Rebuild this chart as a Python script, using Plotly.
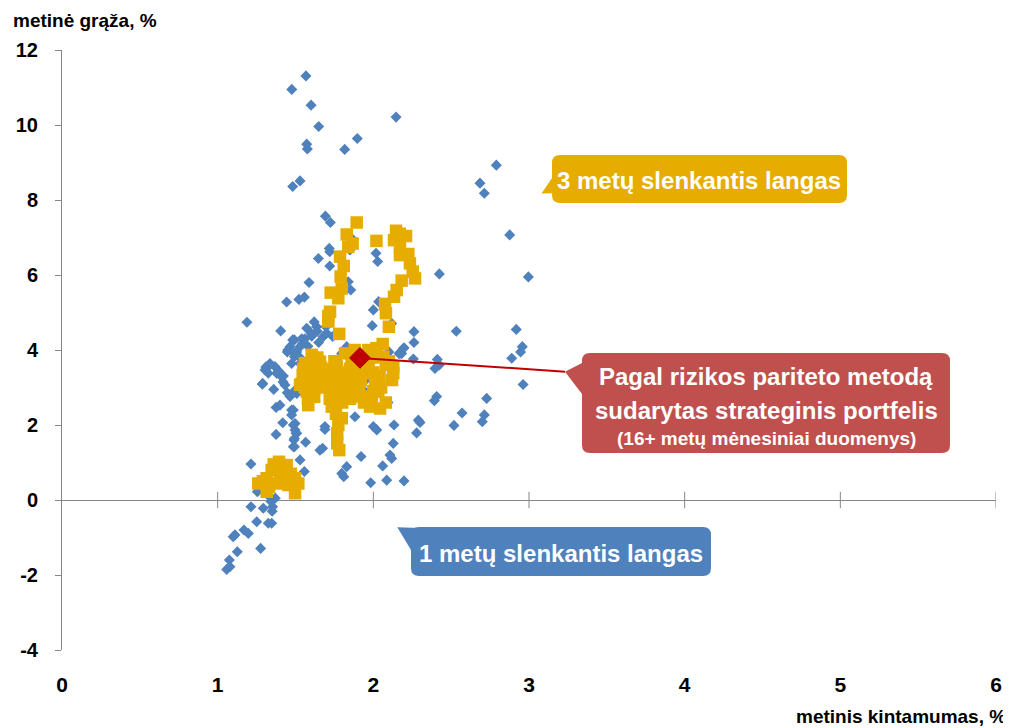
import plotly.graph_objects as go

# ---------------- data ----------------
blue_x = [1.567,1.476,1.600,1.649,2.146,1.897,1.816,1.572,1.576,1.529,1.482,1.692,1.724,1.717,
          2.790,2.685,2.713,2.876,2.424,2.996,2.261,2.533,2.918,2.261,2.197,2.957,2.946,2.889,2.100,2.182,
          2.257,2.411,2.396,2.424,2.962,2.407,2.392,2.728,2.570,2.518,2.713,2.700,2.094,2.133,2.300,2.278,
          2.128,2.107,2.118,2.060,2.086,2.197,2.118,
          1.647,1.720,1.720,2.017,2.028,1.850,1.855,1.587,1.443,1.522,1.557,1.188,2.000,2.034,1.993,1.405,
          1.572,1.636,1.696,1.739,1.649,1.604,1.482,1.546,1.465,1.447,1.492,1.524,1.475,1.336,1.368,1.325,
          1.422,1.289,1.447,1.829,1.797,2.165,1.765,1.679,1.614,
          1.861,1.839,1.679,1.493,1.529,1.508,1.493,1.529,2.193,2.171,1.946,1.882,2.000,2.289,1.465,1.486,
          1.497,1.700,1.689,1.411,1.432,1.336,1.304,1.529,1.508,1.593,1.604,1.379,
          1.255,1.343,1.353,1.214,1.293,1.251,1.325,1.347,1.169,1.111,1.197,1.100,1.126,1.276,1.075,1.058,1.079,
          1.418,1.486,1.375,1.503,1.490,1.486,1.565,1.689,1.657,1.674,1.214,1.529,1.557,1.829,1.797,1.810,
          1.287,1.375,1.400,1.475,1.475,1.497,1.497,1.508,1.493,1.493,1.921,1.983,2.022,
          1.600,1.560,1.640,1.700,1.860,1.900,1.950,1.880,1.960,1.760,1.370,1.330,1.350,
          1.310,1.390,1.450,1.540,1.580,1.620,1.420,1.360]
blue_y = [11.31,10.95,10.53,9.96,10.21,9.64,9.35,9.49,9.36,8.51,8.36,7.57,7.40,6.71,
          8.93,8.45,8.18,7.07,6.03,5.95,4.49,4.50,4.55,4.20,4.06,4.09,3.95,3.78,3.95,3.91,
          3.76,3.75,3.51,3.60,3.08,2.76,2.65,2.71,2.32,1.99,2.27,2.09,2.60,2.00,2.07,1.79,
          1.51,1.20,1.11,0.91,0.53,0.51,4.71,
          6.44,6.62,6.24,6.58,6.36,6.67,5.60,5.80,5.28,5.35,5.41,4.74,5.07,5.29,4.65,4.51,
          4.58,4.62,4.62,4.36,4.20,4.37,4.27,4.18,4.09,3.95,3.91,3.82,3.64,3.64,3.56,3.38,
          3.31,3.11,2.86,4.09,3.91,3.91,3.73,3.42,3.07,
          6.98,5.82,4.36,4.27,4.09,3.95,3.82,3.64,4.04,3.91,2.89,2.22,1.96,2.13,2.76,2.40,
          2.93,2.93,1.96,3.29,3.07,3.60,3.47,3.20,2.84,3.29,2.76,3.38,
          0.22,-0.04,-0.18,-0.18,-0.22,-0.58,-0.62,-0.62,-0.80,-0.93,-0.89,-0.98,-1.38,-1.29,-1.60,-1.85,-1.78,
          2.06,2.00,1.75,1.78,1.60,1.42,1.54,1.88,1.33,1.38,0.96,1.07,0.76,0.89,0.71,0.62,
          3.09,2.47,2.53,2.40,2.27,2.04,1.87,1.78,1.64,1.42,1.16,0.46,1.87,
          4.45,4.30,4.50,4.45,3.55,3.45,3.20,2.95,2.60,2.30,0.05,0.10,-0.30,
          3.55,3.45,4.00,4.30,4.10,4.75,3.15,2.95]

gold_x = [1.893,1.829,1.867,1.839,1.786,1.810,1.790,1.797,1.726,1.775,1.722,1.711,1.711,1.781,
          2.020,2.146,2.133,2.210,2.171,2.171,2.225,2.235,2.253,2.268,2.182,2.150,2.133,2.075,2.081,
          2.100,2.060,2.064,2.170,
          1.968,1.818,1.604,1.657,1.625,1.546,1.529,1.572,1.582,1.765,1.754,1.722,1.765,1.733,1.797,
          1.775,1.829,1.839,1.882,1.936,1.957,2.011,2.032,1.925,1.979,2.043,2.128,2.128,1.768,1.768,1.781,
          1.550,1.600,1.650,1.700,1.750,1.860,1.900,1.970,2.000,1.800,1.850,1.910,1.990,2.040,1.560,1.620,
          1.680,1.720,1.590,1.640,1.800,1.880,2.080,1.760,
          1.560,1.600,1.580,1.660,1.700,1.740,1.800,1.850,1.920,2.000,2.050,2.080,2.000,1.860,1.940,
          1.880,2.020,2.100,2.120,1.540,1.620,
          1.394,1.443,1.347,1.315,1.261,1.315,1.379,1.422,1.497,1.518,1.497,1.454,1.400,1.360,1.430,1.470,
          1.290,1.330]
gold_y = [7.40,7.08,6.84,6.75,6.49,6.24,5.96,5.64,5.53,5.38,5.02,4.91,4.76,4.43,
          6.91,7.18,6.93,7.04,6.75,6.53,6.56,6.31,6.09,5.91,5.85,5.60,5.42,5.23,4.98,
          4.62,4.16,3.82,7.10,
          4.00,3.91,3.87,3.69,3.51,3.33,3.07,2.89,2.53,3.56,3.29,3.11,2.84,2.49,2.18,
          2.00,3.20,2.84,3.38,3.73,3.38,3.11,2.89,2.76,2.49,2.44,3.56,3.38,1.78,1.51,1.33,
          3.50,3.20,3.30,3.50,3.70,3.70,3.55,3.60,3.80,2.60,2.70,3.00,2.70,3.30,3.00,2.75,
          3.00,2.70,3.65,3.80,3.00,3.10,3.60,2.30,
          3.65,3.45,2.70,3.55,3.20,3.00,3.40,3.50,3.20,3.40,3.00,2.60,2.90,2.95,2.60,
          4.00,4.05,3.70,3.20,3.10,2.95,
          1.02,0.93,0.80,0.58,0.44,0.22,0.44,0.62,0.58,0.44,0.18,0.40,0.76,0.95,0.80,0.70,
          0.50,0.35]

red_x = [1.914]
red_y = [3.79]

x_ticks = [0, 1, 2, 3, 4, 5, 6]
y_ticks = [-4, -2, 0, 2, 4, 6, 8, 10, 12]

y_title = "metinė grąža, %"
x_title = "metinis kintamumas, %"
label_gold = "3 metų slenkantis langas"
label_blue = "1 metų slenkantis langas"
label_red = ["Pagal rizikos pariteto metodą", "sudarytas strateginis portfelis",
             "(16+ metų mėnesiniai duomenys)"]

# ---------------- layout constants ----------------
# the page body has an 8px margin, so the figure is drawn 8px smaller and
# everything is placed in reference-window pixel coordinates
OFF = 8
W, H = 1011 - OFF, 728 - OFF
REF_L, REF_T, PW, PH = 62, 50, 934, 600
ML, MT = REF_L - OFF, REF_T - OFF
MR, MB = W - ML - PW, H - MT - PH
FONT = "Liberation Sans, Arial, sans-serif"
AXC = "#868686"
BLUE = "#4F81BD"
GOLD = "#E6AC00"
REDBOX = "#C0504D"
RED = "#C00000"


def px(x):
    return (x - REF_L) / PW


def py(y):
    return (REF_T + PH - y) / PH


def callout(x0, y0, x1, y1, ptr, color, r=8):
    path = f"M{px(x0+r)},{py(y0)} L{px(x1-r)},{py(y0)} Q{px(x1)},{py(y0)} {px(x1)},{py(y0+r)} "
    path += f"L{px(x1)},{py(y1-r)} Q{px(x1)},{py(y1)} {px(x1-r)},{py(y1)} "
    path += f"L{px(x0+r)},{py(y1)} Q{px(x0)},{py(y1)} {px(x0)},{py(y1-r)} "
    path += f"L{px(x0)},{py(y0+r)} Q{px(x0)},{py(y0)} {px(x0+r)},{py(y0)} Z"
    tri = (f"M{px(ptr[0][0])},{py(ptr[0][1])} L{px(ptr[1][0])},{py(ptr[1][1])} "
           f"L{px(ptr[2][0])},{py(ptr[2][1])} Z")
    return [dict(type="path", xref="paper", yref="paper", path=path, fillcolor=color,
                 line=dict(width=0), layer="above"),
            dict(type="path", xref="paper", yref="paper", path=tri, fillcolor=color,
                 line=dict(width=0), layer="above")]


fig = go.Figure()
fig.add_trace(go.Scatter(x=blue_x, y=blue_y, mode="markers",
                         marker=dict(symbol="diamond", size=8.5, color=BLUE, line=dict(width=0)),
                         hoverinfo="skip", showlegend=False))
fig.add_trace(go.Scatter(x=gold_x, y=gold_y, mode="markers",
                         marker=dict(symbol="square", size=12.5, color=GOLD, line=dict(width=0)),
                         hoverinfo="skip", showlegend=False))

shapes = []
for t in x_ticks[1:]:
    shapes.append(dict(type="line", xref="x", yref="y", x0=t, x1=t, y0=-0.22, y1=0.22,
                       line=dict(color=AXC, width=1), layer="below"))
shapes.append(dict(type="line", xref="x", yref="y", x0=red_x[0], y0=red_y[0],
                   x1=(565 - REF_L) / PW * 6, y1=12 - (371.7 - REF_T) / PH * 16,
                   line=dict(color=RED, width=2), layer="above"))
shapes += callout(552, 155, 847, 203, [(552, 178), (541.5, 193.5), (560, 193)], GOLD)
shapes += callout(582, 353, 950, 453, [(582, 363), (565, 371.7), (582, 394)], REDBOX)
shapes += callout(411, 527, 711, 576, [(420, 528), (397.3, 527.3), (411, 550)], BLUE)

fig.add_trace(go.Scatter(x=red_x, y=red_y, mode="markers",
                         marker=dict(symbol="diamond", size=16, color=RED,
                                     line=dict(width=1, color="#A00000")),
                         hoverinfo="skip", showlegend=False))

ann = []
ann.append(dict(text=f"<b>{y_title}</b>", xref="paper", yref="paper", x=px(11), y=py(21),
                xanchor="left", yanchor="middle", showarrow=False,
                font=dict(family=FONT, size=19, color="#000")))
ann.append(dict(text=f"<b>{x_title}</b>", xref="paper", yref="paper", x=px(1008), y=py(716),
                xanchor="right", yanchor="middle", showarrow=False,
                font=dict(family=FONT, size=19, color="#000")))
ann.append(dict(text=f"<b>{label_gold}</b>", xref="paper", yref="paper", x=px(699), y=py(180),
                xanchor="center", yanchor="middle", showarrow=False,
                font=dict(family=FONT, size=24, color="white")))
ann.append(dict(text=f"<b>{label_blue}</b>", xref="paper", yref="paper", x=px(561), y=py(553),
                xanchor="center", yanchor="middle", showarrow=False,
                font=dict(family=FONT, size=24, color="white")))
for txt, yy, sz in zip(label_red, [377, 410, 438], [24, 24, 19]):
    ann.append(dict(text=f"<b>{txt}</b>", xref="paper", yref="paper", x=px(766), y=py(yy),
                    xanchor="center", yanchor="middle", showarrow=False,
                    font=dict(family=FONT, size=sz, color="white")))

fig.update_layout(
    width=W, height=H, margin=dict(l=ML, r=MR, t=MT, b=MB, autoexpand=False),
    paper_bgcolor="white", plot_bgcolor="white",
    shapes=shapes, annotations=ann, showlegend=False,
    font=dict(family=FONT, color="#000"),
    xaxis=dict(range=[0, 6], tickvals=x_ticks, ticktext=[f"<b>{t}</b>" for t in x_ticks],
               showgrid=False, zeroline=False, showline=False, ticks="",
               tickfont=dict(family=FONT, size=21, color="#000"), ticklabelstandoff=20),
    yaxis=dict(range=[-4, 12], tickvals=y_ticks, ticktext=[f"<b>{t}</b>" for t in y_ticks],
               showgrid=False, zeroline=True, zerolinecolor=AXC, zerolinewidth=1.3,
               showline=True, linecolor=AXC, linewidth=1, ticks="outside", ticklen=6,
               tickcolor=AXC, tickfont=dict(family=FONT, size=20, color="#000"),
               ticklabelstandoff=13),
)

fig.write_html("out.html")
